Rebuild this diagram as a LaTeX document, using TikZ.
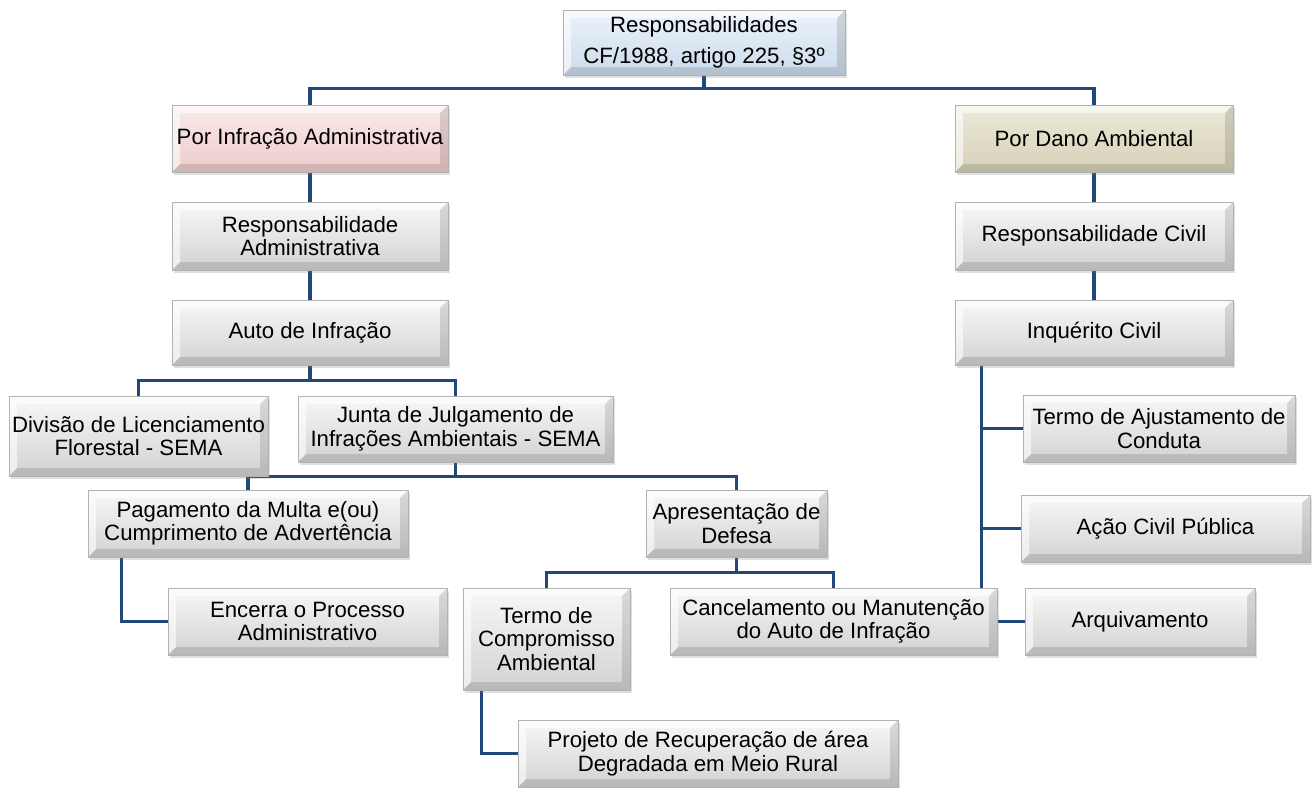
\documentclass[tikz,border=0pt]{standalone}
\usepackage{fontspec}
\setmainfont{Liberation Sans}
\usetikzlibrary{calc,shadows}
\pgfdeclarelayer{background}
\pgfsetlayers{background,main}
\definecolor{linkblue}{RGB}{33,72,122}
\definecolor{grayA}{RGB}{248,248,248}
\definecolor{grayB}{RGB}{210,210,210}
\definecolor{pinkA}{RGB}{250,234,233}
\definecolor{pinkB}{RGB}{236,204,203}
\definecolor{tanA}{RGB}{236,233,218}
\definecolor{tanB}{RGB}{214,209,184}
\definecolor{blueA}{RGB}{236,243,251}
\definecolor{blueB}{RGB}{205,219,236}
\tikzset{
  bevel/.style={path picture={
    \path (path picture bounding box.south west) coordinate (bSW)
          (path picture bounding box.north east) coordinate (bNE);
    \fill[white,opacity=.6] (bSW) -- (bSW|-bNE) -- (bNE)
      -- ($(bNE)+(-8pt,-8pt)$) -- ($(bSW|-bNE)+(8pt,-8pt)$)
      -- ($(bSW)+(8pt,8pt)$) -- cycle;
    \fill[black,opacity=.12] (bSW) -- (bSW-|bNE) -- (bNE)
      -- ($(bNE)+(-8pt,-8pt)$) -- ($(bSW-|bNE)+(-8pt,8pt)$)
      -- ($(bSW)+(8pt,8pt)$) -- cycle;
  }},
  box/.style={bevel, draw=gray!60, line width=.7pt, align=center,
    inner sep=2pt, font=\fontsize{22.2}{23.5}\selectfont,
    drop shadow={shadow xshift=2pt, shadow yshift=-3pt, opacity=.25},
    top color=grayA, bottom color=grayB},
  pinkbox/.style={top color=pinkA, bottom color=pinkB},
  tanbox/.style={top color=tanA, bottom color=tanB},
  bluebox/.style={top color=blueA, bottom color=blueB},
  link/.style={draw=linkblue, line width=3.2pt},
}
\begin{document}
\begin{tikzpicture}[x=1pt,y=-1pt]
\useasboundingbox (0,0) rectangle (1314,787);

% root
\node[box,bluebox,minimum width=282,minimum height=65] (top) at (704,42.5)
  {Responsabilidades\\[7pt]CF/1988, artigo 225, §3º};

% administrative branch
\node[box,pinkbox,minimum width=276,minimum height=67] (pia) at (310,138.5) {Por Infração Administrativa};
\node[box,minimum width=276,minimum height=68] (ra) at (310,236) {Responsabilidade\\Administrativa};
\node[box,minimum width=276,minimum height=65] (auto) at (310,332.5) {Auto de Infração};
\node[box,minimum width=259,minimum height=80] (div) at (138.5,436) {Divisão de Licenciamento\\Florestal - SEMA};
\node[box,minimum width=315,minimum height=66] (junta) at (455.5,429) {Junta de Julgamento de\\Infrações Ambientais - SEMA};
\node[box,minimum width=320,minimum height=67] (pag) at (248,523.5) {Pagamento da Multa e(ou)\\Cumprimento de Advertência};
\node[box,minimum width=181,minimum height=67] (apr) at (736.5,523.5) {Apresentação de\\Defesa};
\node[box,minimum width=279,minimum height=67] (enc) at (307.5,621.5) {Encerra o Processo\\Administrativo};
\node[box,minimum width=167,minimum height=102] (tca) at (546.5,639) {Termo de\\Compromisso\\Ambiental};
\node[box,minimum width=327,minimum height=67] (canc) at (833.5,621.5) {Cancelamento ou Manutenção\\do Auto de Infração};
\node[box,minimum width=380,minimum height=67] (proj) at (708,753.5) {Projeto de Recuperação de área\\Degradada em Meio Rural};

% environmental damage branch
\node[box,tanbox,minimum width=278,minimum height=67] (pda) at (1094,138.5) {Por Dano Ambiental};
\node[box,minimum width=278,minimum height=68] (rc) at (1094,236) {Responsabilidade Civil};
\node[box,minimum width=278,minimum height=65] (inq) at (1094,332.5) {Inquérito Civil};
\node[box,minimum width=272,minimum height=67] (taj) at (1159,428.5) {Termo de Ajustamento de\\Conduta};
\node[box,minimum width=289,minimum height=67] (acp) at (1165.5,528.5) {Ação Civil Pública};
\node[box,minimum width=230,minimum height=67] (arq) at (1140,621.5) {Arquivamento};

\begin{pgfonlayer}{background}
  \draw[link] (top.south) -- ++(0,13) -| (pia.north);
  \draw[link] (top.south) -- ++(0,13) -| (pda.north);
  \draw[link] (pia.south) -- (ra.north);
  \draw[link] (ra.south) -- (auto.north);
  \draw[link] (auto.south) -- ++(0,15) -| (div.north);
  \draw[link] (auto.south) -- ++(0,15) -| (junta.north);
  \draw[link] (junta.south) -- ++(0,14) -| (pag.north);
  \draw[link] (junta.south) -- ++(0,14) -| (apr.north);
  \draw[link] ($(pag.south west)+(34pt,0)$) |- (enc.west);
  \draw[link] (apr.south) -- ++(0,15) -| (tca.north);
  \draw[link] (apr.south) -- ++(0,15) -| (canc.north);
  \draw[link] ($(tca.south west)+(19pt,0)$) |- (proj.west);
  \draw[link] (pda.south) -- (rc.north);
  \draw[link] (rc.south) -- (inq.north);
  \draw[link] ($(inq.south west)+(27pt,0)$) |- (taj.west);
  \draw[link] ($(inq.south west)+(27pt,0)$) |- (acp.west);
  \draw[link] ($(inq.south west)+(27pt,0)$) |- (arq.west);
\end{pgfonlayer}
\end{tikzpicture}
\end{document}
